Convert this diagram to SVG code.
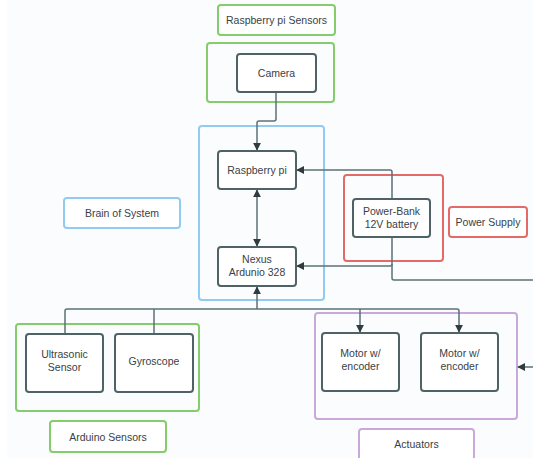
<svg xmlns="http://www.w3.org/2000/svg" width="533" height="458" viewBox="0 0 533 458">
<style>
.node{fill:#ffffff;stroke:#4f6266;stroke-width:2}
.grp{fill:none;stroke-width:2}
.g{stroke:#85cc6c}
.b{stroke:#92cbf2}
.r{stroke:#e46a6a}
.p{stroke:#c8a9d9}
.lbl{fill:#ffffff;stroke-width:2}
text{font-family:"Liberation Sans",Arial,sans-serif;font-size:10.5px;fill:#3a4145;text-anchor:middle}
.c{fill:none;stroke:#5c7175;stroke-width:1.5;stroke-linejoin:round}
</style>
<defs>
<marker id="ah" viewBox="0 0 10 10" refX="9" refY="5" markerWidth="8" markerHeight="8" orient="auto-start-reverse" markerUnits="userSpaceOnUse">
<path d="M0,0 L10,5 L0,10 z" fill="#2f3b3e"/>
</marker>
</defs>
<rect x="0" y="0" width="533" height="458" fill="#ffffff"/>
<rect x="7" y="0" width="526" height="458" fill="#fbfcfe"/>

<g id="containers">
<rect class="grp g" x="207" y="43" width="127" height="59" rx="3"/>
<rect class="grp b" x="199" y="126" width="125" height="174" rx="3"/>
<rect class="grp r" x="344" y="175" width="99" height="86" rx="3"/>
<rect class="grp g" x="16" y="324" width="183" height="87" rx="3"/>
<rect class="grp p" x="315" y="313" width="202" height="106" rx="3"/>
</g>

<g id="connectors">
<path class="c" d="M276,92 V119 Q276,121 274,121 H259 Q257,121 257,123 V150" marker-end="url(#ah)"/>
<path class="c" d="M257,190 V246" marker-start="url(#ah)" marker-end="url(#ah)"/>
<path class="c" d="M392,199 V172 Q392,170 390,170 H297" marker-end="url(#ah)"/>
<path class="c" d="M392,237 V264 Q392,266 390,266 H297" marker-end="url(#ah)"/>
<path class="c" d="M392,264 V278 Q392,280 394,280 H533"/>
<path class="c" d="M65,334 V311 Q65,309 67,309 H457 Q459,309 459,311 V332" marker-end="url(#ah)"/>
<path class="c" d="M154,334 V309"/>
<path class="c" d="M257,309 V287" marker-end="url(#ah)"/>
<path class="c" d="M360,309 V332" marker-end="url(#ah)"/>
<path class="c" d="M533,367 H518" marker-end="url(#ah)"/>
</g>

<g id="rpi-sensors-label">
<rect class="lbl g" x="218" y="5" width="117" height="30" rx="3"/>
<text x="276.5" y="24">Raspberry pi Sensors</text>
</g>
<g id="camera">
<rect class="node" x="237" y="54" width="79" height="38" rx="3"/>
<text x="276.5" y="76.5">Camera</text>
</g>
<g id="raspberry-pi">
<rect class="node" x="218" y="151" width="78" height="38" rx="3"/>
<text x="257" y="173.5">Raspberry pi</text>
</g>
<g id="nexus">
<rect class="node" x="218" y="247" width="78" height="39" rx="3"/>
<text x="257" y="263">Nexus</text>
<text x="257" y="276">Ardunio 328</text>
</g>
<g id="brain-label">
<rect class="lbl b" x="64" y="198" width="116" height="30" rx="3"/>
<text x="122" y="217">Brain of System</text>
</g>
<g id="power-bank">
<rect class="node" x="353" y="199" width="77" height="38" rx="3"/>
<text x="391.5" y="215">Power-Bank</text>
<text x="391.5" y="228">12V battery</text>
</g>
<g id="power-supply-label">
<rect class="lbl r" x="449" y="207" width="78" height="30" rx="3"/>
<text x="488" y="225.5">Power Supply</text>
</g>
<g id="ultrasonic">
<rect class="node" x="26" y="334" width="77" height="58" rx="3"/>
<text x="64.5" y="358">Ultrasonic</text>
<text x="64.5" y="371">Sensor</text>
</g>
<g id="gyroscope">
<rect class="node" x="115" y="334" width="78" height="58" rx="3"/>
<text x="154" y="365">Gyroscope</text>
</g>
<g id="arduino-sensors-label">
<rect class="lbl g" x="50" y="421" width="116" height="31" rx="3"/>
<text x="108" y="440.5">Arduino Sensors</text>
</g>
<g id="motor1">
<rect class="node" x="322" y="333" width="77" height="58" rx="3"/>
<text x="360.5" y="357">Motor w/</text>
<text x="360.5" y="370">encoder</text>
</g>
<g id="motor2">
<rect class="node" x="421" y="333" width="77" height="58" rx="3"/>
<text x="459.5" y="357">Motor w/</text>
<text x="459.5" y="370">encoder</text>
</g>
<g id="actuators-label">
<rect class="lbl p" x="359" y="429" width="115" height="34" rx="3"/>
<text x="416.5" y="447.5">Actuators</text>
</g>
</svg>
